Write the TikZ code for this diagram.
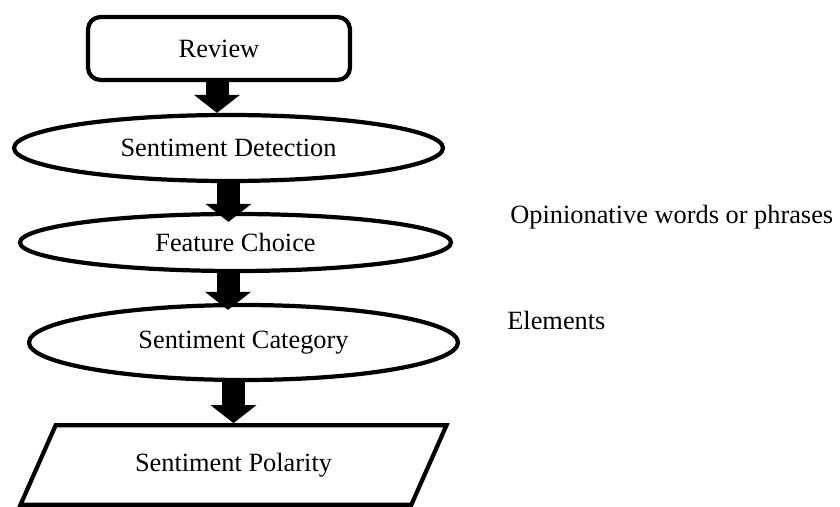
\documentclass[tikz,border=0pt]{standalone}
\usepackage{fontspec}
\setmainfont{Liberation Serif}
\usetikzlibrary{shapes.geometric,arrows.meta,calc}

\begin{document}
\begin{tikzpicture}[font=\fontsize{15}{18}\selectfont,
    box/.style={draw, line width=2.4pt, inner sep=0pt},
    oval/.style={box, ellipse},
    blockarrow/.style={line width=0.46cm, -{Triangle[width=0.9cm,length=0.36cm]}}]
\useasboundingbox (0,0) rectangle (16.8,-10.14);

% Draw the steps
\node[box, rounded corners=0.25cm, minimum width=5.24cm, minimum height=1.26cm] (rev) at (4.38,-0.97) {Review};
\node[oval, minimum width=8.58cm, minimum height=1.32cm] (det) at (4.57,-2.96) {Sentiment Detection};
\node[oval, minimum width=8.62cm, minimum height=1.14cm] (feat) at (4.71,-4.85) {Feature Choice};
\node[oval, minimum width=8.58cm, minimum height=1.5cm] (cat) at (4.87,-6.85) {Sentiment Category};
\node[box, trapezium, trapezium left angle=66, trapezium right angle=114, trapezium stretches body=true,
    inner ysep=0.55cm, minimum width=8.52cm, minimum height=1.59cm] (pol) at (4.67,-9.3) {Sentiment Polarity};

% Draw block arrows
\draw[blockarrow] ($(rev.south)+(-0.04,0)$) -- ($(rev.south |- det.north)+(-0.04,0)$);
\draw[blockarrow] (det.south) -- ($(det.south |- feat.north)+(0,-0.2)$);
\draw[blockarrow] ($(feat.south)+(-0.15,0)$) -- ($(feat.south |- cat.north)+(-0.15,-0.14)$);
\draw[blockarrow] (pol.center |- cat.south) -- (pol.center |- pol.north);

% Side notes
\node[anchor=west, inner sep=0pt] (opin) at (10.2,-4.35) {Opinionative words or phrases};
\node[anchor=west, inner sep=0pt] (elem) at (10.14,-6.4) {Elements};
\end{tikzpicture}
\end{document}
